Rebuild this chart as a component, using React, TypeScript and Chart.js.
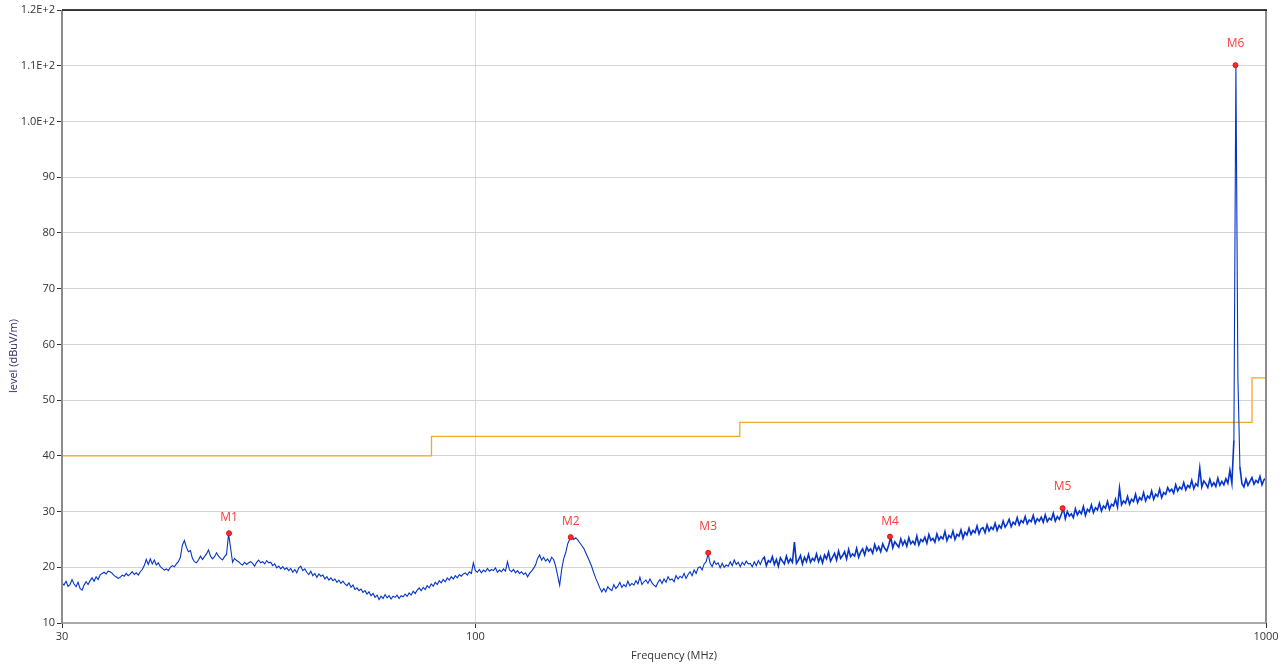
import React, { useEffect, useRef } from "react";
import { Chart, registerables } from "chart.js";

Chart.register(...registerables);

// ---------- data ----------
const FREQ_START = 30;
const FREQ_STOP = 1000;
const xTickValues = [30, 100, 1000];
const yMin = 10;
const yMax = 120;
const yStep = 10;

const limitFreq = [30, 88, 216, 960, 1000];
const limitLevel = [40, 43.5, 46, 54, 54];

const markerNames = ["M1", "M2", "M3", "M4", "M5", "M6"];
const markerFreq = [48.8, 132, 197, 334.5, 553, 915];
const markerLevel = [26.1, 25.4, 22.6, 25.5, 30.6, 110.1];
const markerLabelGap = [16, 16, 26, 15, 22, 22];

// measured trace (dBuV/m), sweep points from 30 MHz to 1000 MHz
const levelsA = [
  17.2, 16.8, 17.5, 16.6, 16.9, 17.8, 17.0, 16.5, 17.3, 16.2, 15.9, 16.8, 17.4, 16.9, 17.6, 18.1, 17.5, 18.3, 17.8, 18.6,
  18.9, 19.1, 18.8, 19.3, 19.2, 18.9, 18.5, 18.3, 18.0, 18.2, 18.6, 18.4, 18.9, 18.5, 18.8, 19.2, 18.7, 19.0, 18.6, 19.2,
  19.6, 20.3, 21.4, 20.5, 21.5, 20.6, 21.3, 20.4, 20.8, 20.1,
];
const levelsB = [
  19.8, 19.5, 19.7, 19.4, 20.0, 20.3, 20.1, 20.6, 21.0, 21.8, 24.0, 24.8, 23.6, 22.8, 23.0, 21.6, 21.0, 20.8, 21.3, 22.0,
  21.4, 21.9, 22.4, 23.1, 22.0, 21.5, 21.9, 22.6, 22.0, 21.6, 21.3, 21.9, 22.3, 26.0, 23.5, 20.9, 21.6, 21.2, 21.0, 20.6,
  20.4, 20.9, 20.5, 20.8, 21.0, 20.7, 20.2, 20.9, 21.3, 20.8,
];
const levelsC = [
  21.0, 20.6, 21.2, 20.8, 20.9, 20.3, 20.6, 19.9, 20.2, 19.7, 20.1, 19.6, 19.9, 19.4, 19.8, 19.1, 19.6, 19.0, 19.9, 20.2,
  19.4, 19.7, 19.1, 18.7, 19.3, 18.5, 18.9, 18.2, 18.8, 18.4, 18.6, 17.9, 18.3, 17.7, 18.1, 17.6, 17.9, 17.3, 17.7, 17.1,
  17.5, 17.0, 16.7, 17.2, 16.4, 16.8, 16.0, 16.3, 15.8, 16.1,
];
const levelsD = [
  15.5, 15.8, 15.2, 15.6, 14.9, 15.3, 14.6, 15.0, 14.2, 14.8, 14.4, 15.1, 14.5, 14.9, 14.3, 14.8, 14.6, 15.0, 14.4, 14.9,
  14.7, 15.2, 14.8, 15.4, 15.0, 15.7, 15.3, 15.9, 16.3, 15.8, 16.4, 16.0, 16.7, 16.3, 17.0, 16.6, 17.3, 16.9, 17.6, 17.2,
  17.8, 17.4, 18.1, 17.7, 18.3, 17.9, 18.5, 18.1, 18.7, 18.4,
];
const levelsE = [
  18.8, 19.0, 18.6, 19.2, 18.9, 20.8, 19.4, 19.1, 19.6, 19.0, 19.5, 19.2, 19.8, 19.3, 19.6, 19.4, 19.9, 19.1, 19.5, 19.2,
  19.7, 19.3, 21.0, 19.5, 19.2, 19.6, 19.0, 19.4, 18.9, 19.2, 18.7, 19.0, 18.3, 18.9, 19.3, 19.8, 20.4, 21.6, 22.2, 21.3,
  21.8, 21.1, 21.5, 20.9, 21.8, 21.4, 20.2, 18.5, 16.8, 19.6,
];
const levelsF = [
  21.5, 22.6, 24.2, 25.0, 25.4, 25.0, 25.3, 24.9, 24.4, 23.9, 23.4, 22.6, 21.8, 21.0, 20.1, 19.0, 18.0, 17.2, 16.3, 15.6,
  16.2, 15.6, 16.5, 16.1, 15.8, 16.9, 16.2, 16.6, 17.3, 16.4, 16.9, 16.5, 17.5, 16.7, 17.1, 16.8, 17.6, 17.0, 18.2, 16.9,
  17.4, 17.7, 17.1, 17.9, 17.2, 16.8, 16.5, 17.3, 17.8, 17.1,
];
const levelsG = [
  17.9, 17.3, 18.3, 17.7, 17.9, 17.4, 18.5, 17.9, 18.4, 18.1, 18.9, 18.0, 18.7, 19.2, 18.5, 19.5, 18.9, 19.9, 20.1, 19.5,
  20.6, 21.0, 22.4, 20.7, 20.1, 21.1, 20.5, 20.8, 19.9, 20.7, 20.0, 20.4, 20.2, 21.0, 20.3, 21.3, 20.5, 20.9, 20.1, 20.9,
  20.4, 21.1, 20.6, 20.7, 20.1, 21.0, 20.3, 21.2, 20.5, 21.4,
];
const levelsH = [
  21.8, 20.3, 21.2, 20.9, 21.9, 20.5, 21.4, 20.2, 21.7, 21.1, 20.6, 22.0, 20.8, 21.5, 20.9, 24.5, 20.7, 21.3, 22.1, 20.6,
  21.8, 21.0, 22.3, 20.9, 21.6, 21.2, 22.4, 21.0, 21.9, 20.8, 22.2, 21.5, 22.7, 21.1, 21.8, 22.5, 21.3, 22.9, 21.6, 22.1,
  22.8, 21.5, 23.2, 21.9, 22.4, 22.0, 23.4, 21.8, 22.7, 23.3,
];
const levelsI = [
  22.2, 23.6, 22.9, 23.3, 22.5, 24.1, 23.0, 23.7, 22.8, 24.2, 23.4, 22.9, 24.0, 25.4, 23.5, 24.6, 24.1, 23.6, 25.1, 24.0,
  24.8, 23.8, 25.3, 24.2, 24.7, 24.1, 25.6, 24.0, 25.0, 24.6, 25.4, 24.3, 25.9, 24.8, 25.2, 24.5, 26.0, 24.9, 25.5, 25.1,
  26.4, 24.8, 25.7, 25.3, 26.5, 25.0, 25.9, 25.6, 26.7, 25.2,
];
const levelsJ = [
  26.3, 25.8, 27.0, 25.9, 26.6, 26.2, 27.4, 26.0, 26.9, 27.1, 26.2, 27.6, 26.5, 27.2, 26.8, 27.9, 26.6, 27.5, 27.0, 28.3,
  27.2, 27.8, 28.6, 27.3, 28.1, 27.7, 28.9, 27.6, 28.4, 28.0, 29.1, 27.8, 28.5, 28.2, 29.3, 27.9, 28.7, 28.3, 29.0, 28.1,
  29.4, 28.2, 28.8, 28.5, 29.7, 28.3, 29.1, 28.6, 29.5, 30.6,
];
const levelsK = [
  28.7, 30.0, 29.2, 29.6, 28.9, 30.5, 29.4, 30.1, 29.6, 30.9, 29.3, 30.4, 30.0, 31.2, 29.8, 30.7, 30.3, 31.5, 30.1, 31.0,
  30.6, 31.8, 30.4, 31.3, 31.0, 32.2, 30.8, 34.2, 31.2, 31.9, 31.5, 32.7, 31.3, 32.2, 31.8, 33.1, 31.6, 32.5, 32.1, 33.4,
  31.9, 32.8, 32.4, 33.7, 32.2, 33.1, 32.7, 34.0, 32.5, 33.4,
];
const levelsL = [
  33.1, 34.3, 33.6, 34.0, 33.3, 34.8, 33.7, 34.4, 34.0, 35.2, 33.9, 34.7, 34.3, 35.6, 34.1, 35.0, 34.6, 37.8, 34.4, 35.5,
  35.0, 34.3, 35.8, 34.6, 35.2, 34.5, 36.0, 34.7, 35.4, 34.8, 35.9, 35.1, 37.4, 35.1, 42.8, 110.1, 54.0, 38.0, 35.0, 34.4,
  35.8, 34.7, 35.4, 36.1, 34.9, 35.6, 35.2, 36.3, 34.8, 35.7, 36.0,
];

const levels = [
  ...levelsA, ...levelsB, ...levelsC, ...levelsD, ...levelsE, ...levelsF,
  ...levelsG, ...levelsH, ...levelsI, ...levelsJ, ...levelsK, ...levelsL,
];
// sweep grid (log-spaced frequency points)
const sweepFreq = levels.map(
  (_, i) => FREQ_START * Math.pow(FREQ_STOP / FREQ_START, i / (levels.length - 1))
);

const FONT = "'Open Sans', 'DejaVu Sans', sans-serif";

export default function App() {
  const ref = useRef<HTMLCanvasElement | null>(null);

  useEffect(() => {
    if (!ref.current) return;

    const framePlugin = {
      id: "frame",
      afterDraw(chart: any) {
        const { ctx, chartArea: a } = chart;
        ctx.save();
        ctx.strokeStyle = "#8c8c8c";
        ctx.lineWidth = 2;
        ctx.beginPath();
        ctx.moveTo(a.right, a.top);
        ctx.lineTo(a.right, a.bottom);
        ctx.stroke();
        ctx.strokeStyle = "#a8a8a8";
        ctx.beginPath();
        ctx.moveTo(a.left, a.bottom);
        ctx.lineTo(a.right, a.bottom);
        ctx.stroke();
        ctx.strokeStyle = "#8c8c8c";
        ctx.beginPath();
        ctx.moveTo(a.left, a.top);
        ctx.lineTo(a.left, a.bottom + 1);
        ctx.stroke();
        ctx.strokeStyle = "#000000";
        ctx.lineWidth = 1.5;
        ctx.beginPath();
        ctx.moveTo(a.left, a.top);
        ctx.lineTo(a.right + 1, a.top);
        ctx.stroke();

        ctx.font = `11px ${FONT}`;
        ctx.fillStyle = "#333333";
        ctx.textAlign = "center";
        ctx.textBaseline = "middle";
        ctx.fillText("Frequency (MHz)", 674, 656);
        ctx.save();
        ctx.translate(14, 356);
        ctx.rotate(-Math.PI / 2);
        ctx.fillStyle = "#2a2a6a";
        ctx.fillText("level (dBuV/m)", 0, 0);
        ctx.restore();

        const xs = chart.scales.x;
        const ys = chart.scales.y;
        ctx.fillStyle = "#ff3b3b";
        ctx.font = `12px ${FONT}`;
        markerNames.forEach((name, i) => {
          const px = xs.getPixelForValue(markerFreq[i]);
          const py = ys.getPixelForValue(markerLevel[i]);
          ctx.fillText(name, px, py - markerLabelGap[i]);
        });
        ctx.restore();
      },
    };

    const chart = new Chart(ref.current, {
      type: "line",
      data: {
        datasets: [
          {
            label: "Markers",
            data: markerFreq.map((f, i) => ({ x: f, y: markerLevel[i] })),
            showLine: false,
            pointRadius: 2.5,
            pointBackgroundColor: "#ff2a2a",
            pointBorderColor: "#e01010",
            pointBorderWidth: 1,
            order: 0,
          },
          {
            label: "Trace",
            data: sweepFreq.map((f, i) => ({ x: f, y: levels[i] })),
            borderColor: "#0634c8",
            borderWidth: 1.1,
            segment: {
              borderWidth: (c: any) =>
                c.p0.parsed.x > 230 && c.p0.parsed.y < 45 && c.p1.parsed.y < 45 ? 1.6 : 1.1,
            },
            pointRadius: 0,
            tension: 0,
            order: 1,
          },
          {
            label: "Limit",
            data: limitFreq.map((f, i) => ({ x: f, y: limitLevel[i] })),
            borderColor: "#f5a431",
            borderWidth: 1.3,
            pointRadius: 0,
            stepped: "before",
            order: 2,
          },
        ],
      },
      options: {
        responsive: false,
        animation: false,
        events: [],
        layout: { padding: { top: 10, right: 22, left: 0, bottom: 0 } },
        plugins: {
          legend: { display: false },
          tooltip: { enabled: false },
          title: { display: false },
        },
        scales: {
          x: {
            type: "logarithmic",
            min: FREQ_START,
            max: FREQ_STOP,
            afterBuildTicks: (scale: any) => {
              scale.ticks = xTickValues.map((v) => ({ value: v }));
            },
            afterFit: (scale: any) => {
              scale.height = 43;
            },
            ticks: {
              autoSkip: false,
              maxRotation: 0,
              color: "#333333",
              font: { family: FONT, size: 11 },
              padding: 2,
              callback: (v: any) => String(v),
            },
            grid: {
              color: (c: any) => (c.tick && c.tick.value === 100 ? "#d9d9d9" : "rgba(0,0,0,0)"),
              tickColor: "#333333",
              tickLength: 5,
              lineWidth: 1,
            },
            border: { display: false },
          },
          y: {
            type: "linear",
            min: yMin,
            max: yMax,
            afterFit: (scale: any) => {
              scale.width = 62;
            },
            ticks: {
              stepSize: yStep,
              color: "#333333",
              font: { family: FONT, size: 11 },
              padding: 2,
              callback: (v: any) =>
                v >= 100 ? (v / 100).toFixed(1) + "E+2" : String(v),
            },
            grid: {
              color: "#d4d4d4",
              tickColor: "#333333",
              tickLength: 5,
              lineWidth: 1,
            },
            border: { display: false },
          },
        },
      },
      plugins: [framePlugin],
    } as any);

    return () => chart.destroy();
  }, []);

  return (
    <div style={{ position: "absolute", left: 0, top: 0, width: 1288, height: 666, background: "#fff" }}>
      <canvas ref={ref} width={1288} height={666} style={{ display: "block" }} />
    </div>
  );
}
